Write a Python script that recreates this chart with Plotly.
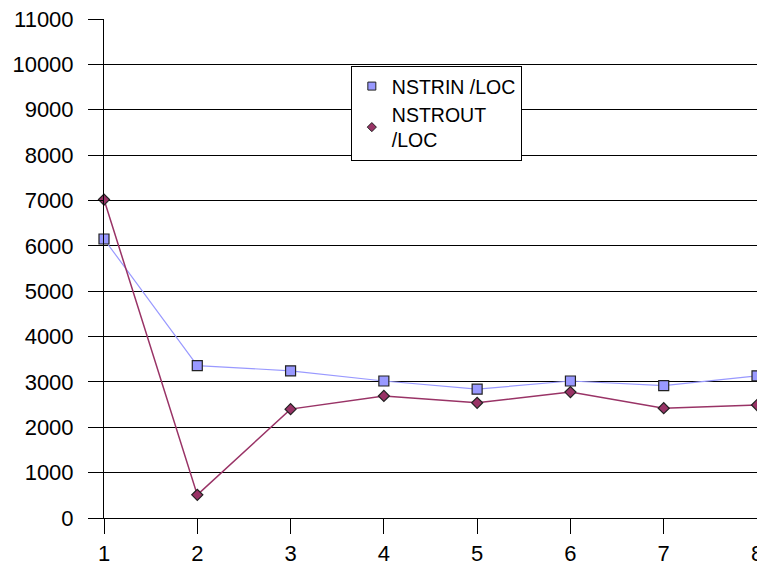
import plotly.graph_objects as go

x_vals = [1, 2, 3, 4, 5, 6, 7, 8]
nstrin = [6150, 3360, 3245, 3020, 2840, 3020, 2920, 3135]
nstrout = [7020, 510, 2400, 2690, 2540, 2775, 2420, 2490]
y_ticks = [0, 1000, 2000, 3000, 4000, 5000, 6000, 7000, 8000, 9000, 10000, 11000]

blue = "#9999FF"
plum = "#993366"
edge = "#222222"

fig = go.Figure()
fig.add_trace(go.Scatter(
    x=x_vals, y=nstrin, mode="lines+markers", name="NSTRIN /LOC", showlegend=False,
    line=dict(color=blue, width=1.2),
    marker=dict(symbol="square", size=10, color=blue, line=dict(color=edge, width=1.2)),
    cliponaxis=False,
))
fig.add_trace(go.Scatter(
    x=x_vals, y=nstrout, mode="lines+markers", name="NSTROUT /LOC", showlegend=False,
    line=dict(color=plum, width=1.5),
    marker=dict(symbol="diamond", size=8.5, color=plum, line=dict(color=edge, width=1.2)),
    cliponaxis=False,
))
# legend entries (markers only, as in the reference)
fig.add_trace(go.Scatter(
    x=[None], y=[None], mode="markers", name="NSTRIN /LOC",
    marker=dict(symbol="square", size=8, color=blue, line=dict(color=edge, width=1)),
))
fig.add_trace(go.Scatter(
    x=[None], y=[None], mode="markers", name="NSTROUT<br>/LOC",
    marker=dict(symbol="diamond", size=7, color=plum, line=dict(color=edge, width=1)),
))

fig.update_layout(
    width=757, height=563,
    margin=dict(l=104, r=0, t=19, b=45, autoexpand=False),
    paper_bgcolor="white", plot_bgcolor="white",
    font=dict(family="Liberation Sans, Arial, sans-serif", size=22, color="black"),
    showlegend=True,
    legend=dict(
        x=0.378, y=0.906, xanchor="left", yanchor="top",
        bordercolor="black", borderwidth=1, bgcolor="white",
        font=dict(size=19.5), tracegroupgap=0, itemwidth=30,
    ),
    xaxis=dict(
        range=[1, 8], tickmode="array", tickvals=x_vals, ticktext=[str(v) for v in x_vals],
        showgrid=False, zeroline=False, showline=True, linecolor="black", linewidth=1,
        ticks="outside", ticklen=15, tickcolor="black", tickwidth=1,
        ticklabelstandoff=1, ticklabeloverflow="allow", automargin=False,
    ),
    yaxis=dict(
        range=[0, 11000], tickmode="array", tickvals=y_ticks, ticktext=[str(v) for v in y_ticks],
        showgrid=True, gridcolor="black", gridwidth=1, zeroline=False,
        showline=True, linecolor="black", linewidth=1,
        ticks="outside", ticklen=15, tickcolor="black", tickwidth=1,
        ticklabelstandoff=10, automargin=False,
    ),
)

fig.write_html("out.html")
